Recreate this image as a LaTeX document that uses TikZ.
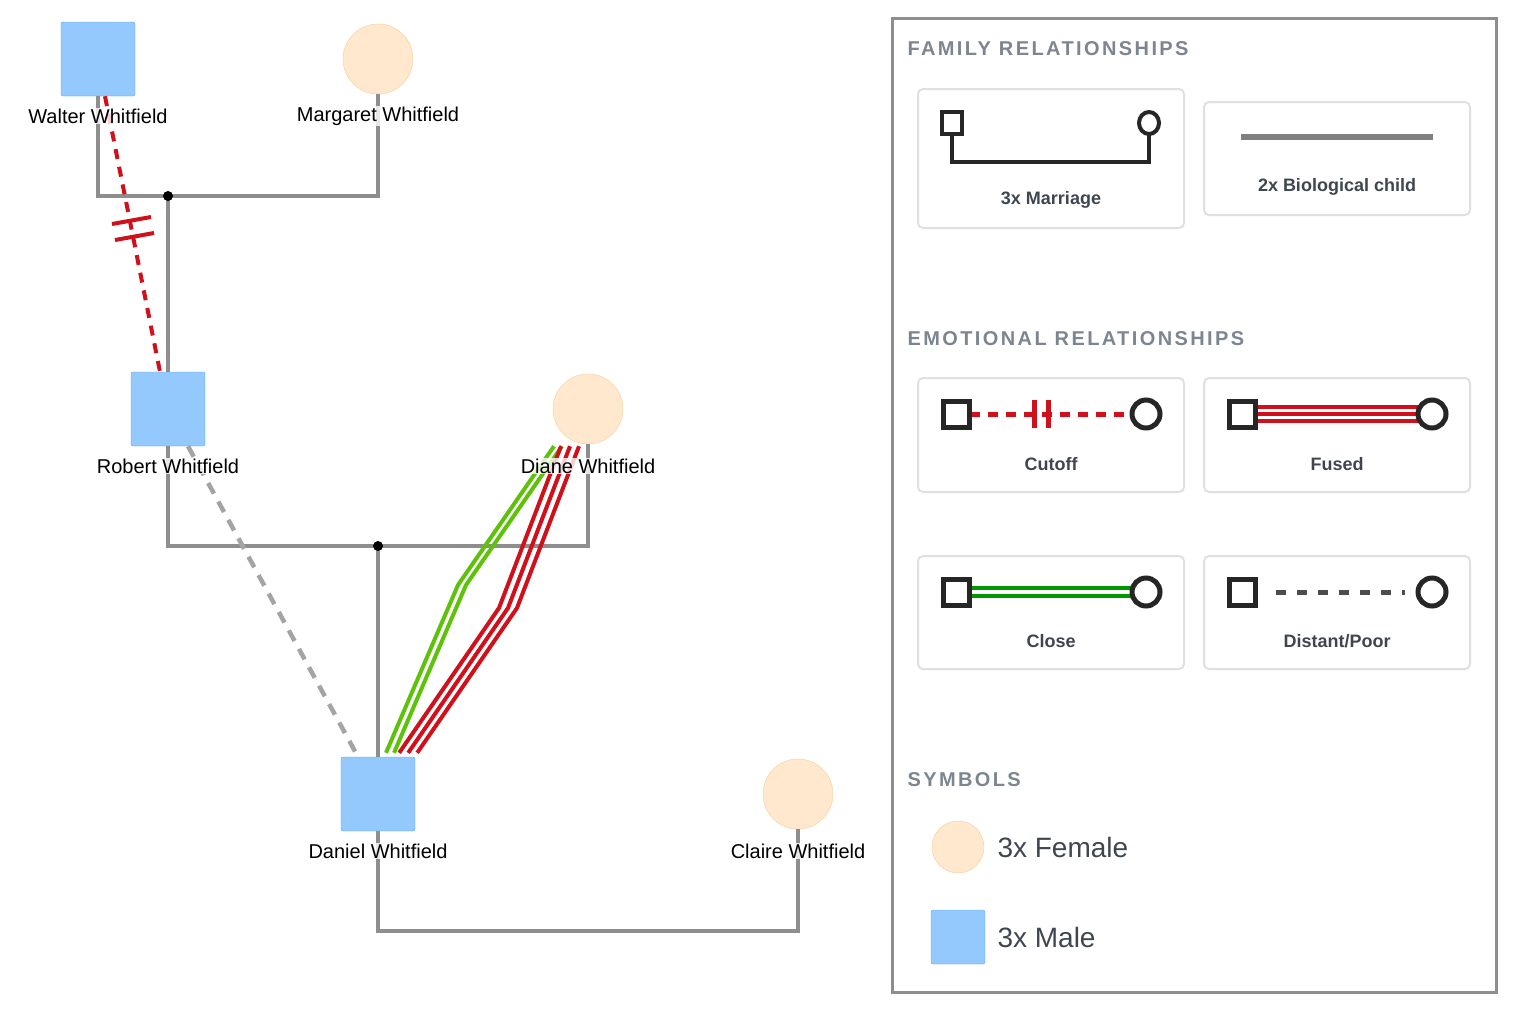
\documentclass[tikz,border=0pt]{standalone}
\usepackage{fontspec}
\setmainfont{Liberation Sans}
\usetikzlibrary{positioning}
\definecolor{male}{HTML}{93C9FD}
\definecolor{maleline}{HTML}{5AA8F5}
\definecolor{female}{HTML}{FFE8CE}
\definecolor{femaleline}{HTML}{F9CD92}
\definecolor{kin}{HTML}{8E8E8E}
\definecolor{cut}{HTML}{D0101A}
\definecolor{near}{HTML}{5EC20A}
\definecolor{title}{HTML}{7C8590}
\definecolor{cardtxt}{HTML}{3F4650}
\definecolor{card}{HTML}{E0E0E0}
\begin{document}
\begin{tikzpicture}[x=1pt,y=-1pt,
  every path/.style={>=latex},
  male/.style={draw=maleline,fill=male,rectangle,rounded corners=2pt,minimum size=74pt,inner sep=0pt},
  female/.style={draw=femaleline,fill=female,circle,minimum size=70pt,inner sep=0pt},
  pname/.style={font=\fontsize{20}{22}\selectfont,inner sep=1pt,fill=white,fill opacity=0.8,text opacity=1},
  kinline/.style={draw=kin,line width=4pt},
  card/.style={draw=card,line width=2pt,rounded corners=5pt},
  cardlabel/.style={font=\fontsize{18}{20}\selectfont\bfseries,text=cardtxt},
  head/.style={font=\fontsize{20}{22}\selectfont\bfseries\addfontfeature{LetterSpace=12},text=title,anchor=west},
  sym/.style={draw=black!85,line width=5pt,fill=white}]
\useasboundingbox (0,0) rectangle (1514,1010);
% persons
\node[male]   (walter)   at (98,59)  {};
\node[female] (margaret) at (378,59) {};
\node[male]   (robert)   at (168,409) {};
\node[female] (diane)    at (588,409) {};
\node[male]   (daniel)   at (378,794) {};
\node[female] (claire)   at (798,794) {};
% family lines
\coordinate (wm) at (168,196);
\coordinate (rd) at (378,546);
\draw[kinline] (walter.south) |- (wm) -| (margaret.south);
\draw[kinline] (wm) -- (robert.north);
\draw[kinline] (robert.south) |- (rd) -| (diane.south);
\draw[kinline] (rd) -- (daniel.north);
\draw[kinline] (daniel.south) |- (798,931) -| (claire.south);
\fill (wm) circle (5pt);
\fill (rd) circle (5pt);
% emotional lines
\draw[cut,line width=4pt,dash pattern=on 10pt off 8pt] ([xshift=7pt]walter.south) -- ([xshift=-8pt]robert.north);
\draw[cut,line width=4pt] (112,224) -- (151,217) (115,240) -- (154,233);
\draw[kin!80,line width=4.5pt,dash pattern=on 12pt off 9pt] ([xshift=20pt]robert.south) -- ([xshift=-20pt]daniel.north);
\coordinate (k1) at (462,585);
\coordinate (k2) at (508,608);
\foreach \d in {-4,4}
  \draw[near,line width=4pt] ([xshift=-30+\d pt,yshift=-2pt]diane.south) -- ([xshift=\d pt]k1) -- ([xshift=12+\d pt,yshift=4pt]daniel.north);
\foreach \d in {-9,0,9}
  \draw[cut,line width=4pt] ([xshift=-18+\d pt,yshift=-2pt]diane.south) -- ([xshift=\d pt]k2) -- ([xshift=-7+\d pt,yshift=4pt]daniel.north east);
% names
\node[pname] at (98,116)  {Walter Whitfield};
\node[pname] at (378,116) {Margaret Whitfield};
\node[pname] at (168,466) {Robert Whitfield};
\node[pname] at (588,466) {Diane Whitfield};
\node[pname] at (378,851) {Daniel Whitfield};
\node[pname] at (798,851) {Claire Whitfield};
% legend
\draw[kin,line width=3pt] (892,18) rectangle (1496,992);
\node[head] at (904,49)  {FAMILY RELATIONSHIPS};
\node[head] at (904,339) {EMOTIONAL RELATIONSHIPS};
\node[head] at (904,780) {SYMBOLS};
\draw[card] (918,89) rectangle (1184,228);
\draw[card] (1204,102) rectangle (1470,215);
\draw[card] (918,378) rectangle (1184,492);
\draw[card] (1204,378) rectangle (1470,492);
\draw[card] (918,556) rectangle (1184,669);
\draw[card] (1204,556) rectangle (1470,669);
\node[cardlabel] at (1051,200) {3x Marriage};
\node[cardlabel] at (1337,187) {2x Biological child};
\node[cardlabel] at (1051,464) {Cutoff};
\node[cardlabel] at (1337,464) {Fused};
\node[cardlabel] at (1051,641) {Close};
\node[cardlabel] at (1337,641) {Distant/Poor};
% legend glyphs
\draw[black!85,line width=4pt] (952,134) |- (1149,162) -- (1149,134);
\draw[black!85,line width=4pt,fill=white] (942,112) rectangle (962,134);
\draw[black!85,line width=4pt,fill=white] (1149,123) ellipse (10pt and 11pt);
\draw[kin!90!black,line width=5.5pt] (1241,137) -- (1433,137);
\draw[cut,line width=5pt,dash pattern=on 10pt off 8pt] (970,414) -- (1130,414);
\draw[cut,line width=5pt] (1034,400) -- (1034,428) (1048,400) -- (1048,428);
\foreach \d in {-7,0,7}
  \draw[cut,line width=4pt] (1256,414+\d) -- (1420,414+\d);
\foreach \d in {-4,4}
  \draw[green!60!black,line width=4pt] (970,592+\d) -- (1133,592+\d);
\draw[black!70,line width=5pt,dash pattern=on 10pt off 11pt] (1276,592) -- (1405,592);
\foreach \x/\y in {956/414,1242/414,956/592,1242/592}
  \draw[sym] (\x-13,\y-13) rectangle (\x+13,\y+13);
\foreach \x/\y in {1146/414,1432/414,1146/592,1432/592}
  \draw[sym] (\x,\y) circle (14pt);
\node[female,minimum size=52pt] (symf) at (958,847) {};
\node[male,minimum size=54pt]   (symm) at (958,937) {};
\node[font=\fontsize{28}{30}\selectfont,text=cardtxt,anchor=west] at (994,847) {3x Female};
\node[font=\fontsize{28}{30}\selectfont,text=cardtxt,anchor=west] at (994,937) {3x Male};
\end{tikzpicture}
\end{document}
